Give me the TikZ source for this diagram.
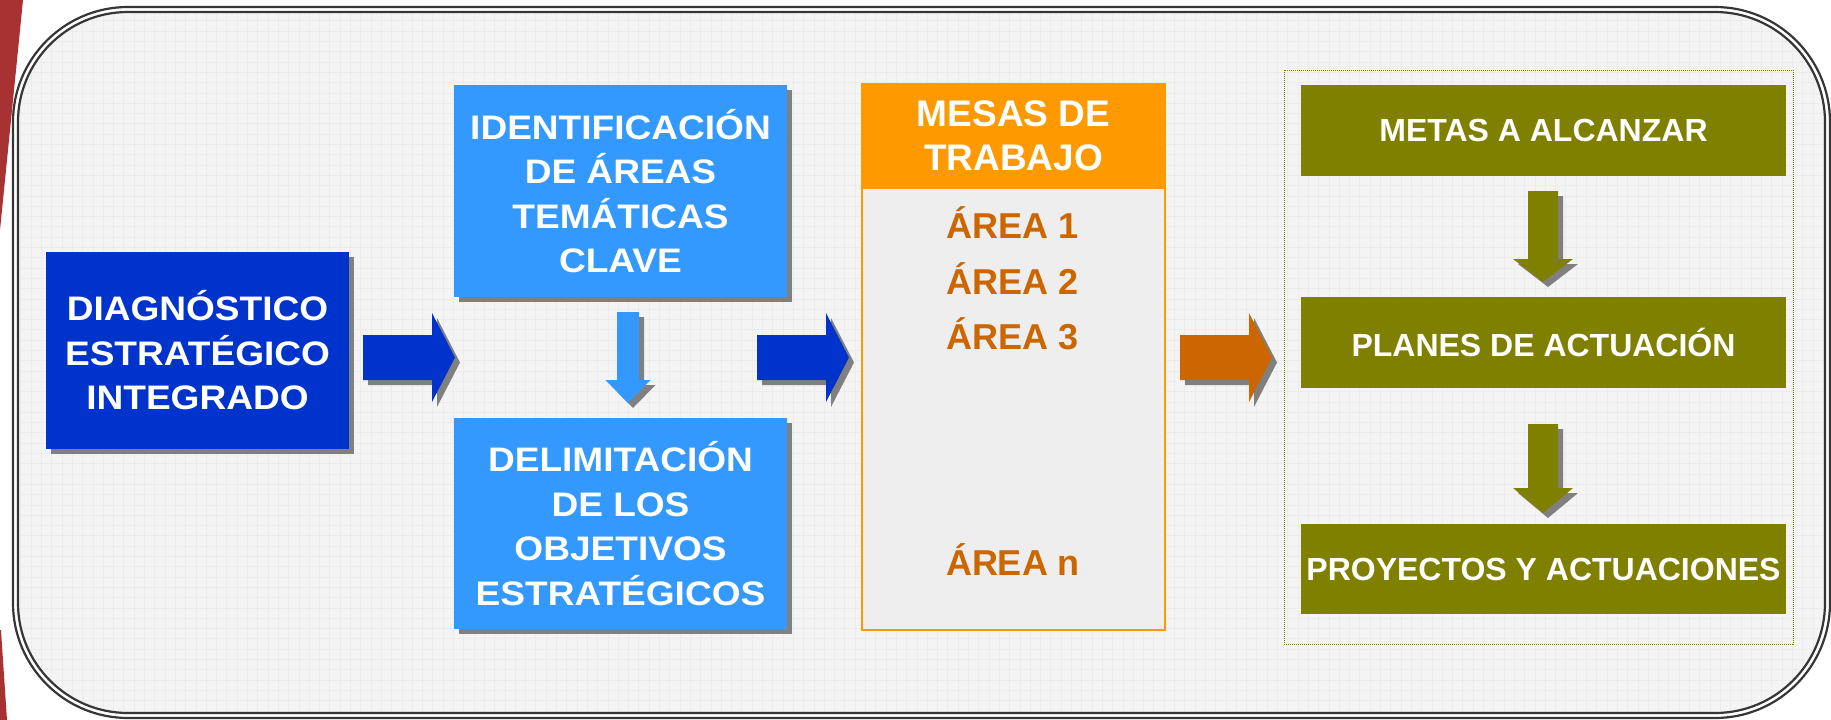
\documentclass[tikz,border=0pt]{standalone}
\usepackage{fontspec}
\setmainfont{Liberation Sans}
\newfontfamily\wideb{Liberation Sans}[FakeStretch=1.09]
\usetikzlibrary{shadows}
\definecolor{dblue}{HTML}{0033CC}
\definecolor{lblue}{HTML}{3399FF}
\definecolor{orng}{HTML}{FF9900}
\definecolor{brorange}{HTML}{CC6600}
\definecolor{oliv}{HTML}{808000}
\definecolor{shad}{HTML}{808080}
\definecolor{bgc}{HTML}{F4F4F4}
\definecolor{gridc}{HTML}{ECECEC}
\definecolor{framec}{HTML}{363636}
\definecolor{redc}{HTML}{A83232}
\definecolor{mesabg}{HTML}{EEEEEE}
% right-pointing block arrow: #1 = left x, #2 = centre y, #3 = colour
\newcommand\RArr[3]{%
  \fill[shad,shift={(#1+5,#2+5)}] (0,-22.5) -- (69,-22.5) -- (69,-44.5) -- (92,0) -- (69,44.5) -- (69,22.5) -- (0,22.5) -- cycle;
  \fill[#3,shift={(#1,#2)}] (0,-22.5) -- (69,-22.5) -- (69,-44.5) -- (92,0) -- (69,44.5) -- (69,22.5) -- (0,22.5) -- cycle;}
% down-pointing block arrow: #1 = centre x, #2 = top y, #3 = shaft half width,
% #4 = head half width, #5 = shaft length, #6 = head length, #7 = colour
\newcommand\DArr[7]{%
  \fill[shad,shift={(#1+5,#2+5)}] (-#3,0) -- (#3,0) -- (#3,#5) -- (#4,#5) -- (0,#5+#6) -- (-#4,#5) -- (-#3,#5) -- cycle;
  \fill[#7,shift={(#1,#2)}] (-#3,0) -- (#3,0) -- (#3,#5) -- (#4,#5) -- (0,#5+#6) -- (-#4,#5) -- (-#3,#5) -- cycle;}
\begin{document}
\begin{tikzpicture}[x=1pt,y=-1pt,
  bluebox/.style={rectangle, inner sep=0pt, text=white, align=center,
    font=\wideb\bfseries\fontsize{34}{44.5}\selectfont,
    drop shadow={shadow xshift=5pt, shadow yshift=-5pt, fill=shad, opacity=1}},
  olivebox/.style={rectangle, fill=oliv, inner sep=0pt, minimum width=485pt,
    minimum height=91pt, text=white, font=\bfseries\fontsize{32}{38}\selectfont},
  arealabel/.style={text=brorange, font=\bfseries\fontsize{36}{40}\selectfont, anchor=base},
]
\useasboundingbox (0,0) rectangle (1831,720);
\fill[white] (0,0) rectangle (1831,720);
\fill[redc] (0,0) -- (23,0) -- (0,230) -- cycle;
\fill[redc] (0,630) -- (1,630) -- (7,720) -- (0,720) -- cycle;
\draw[framec, line width=2.2pt, rounded corners=115pt] (13,7) rectangle (1830,718);
\begin{scope}
  \path[clip, rounded corners=110pt] (18,12) rectangle (1825,713);
  \fill[bgc] (18,12) rectangle (1825,713);
  \draw[gridc, line width=0.4pt, step=10.3pt] (18,12) grid (1825,713);
\end{scope}
\draw[framec, line width=2.2pt, rounded corners=110pt] (18,12) rectangle (1825,713);

% blue boxes
\node[bluebox, fill=dblue, minimum width=303pt, minimum height=197pt] (diag) at (197.5,350.5)
  {DIAGNÓSTICO\\ESTRATÉGICO\\INTEGRADO};
\node[bluebox, fill=lblue, minimum width=333pt, minimum height=212pt] (ident) at (620.5,191)
  {IDENTIFICACIÓN\\DE ÁREAS\\TEMÁTICAS\\CLAVE};
\node[bluebox, fill=lblue, minimum width=333pt, minimum height=211pt] (delim) at (620.5,523.5)
  {DELIMITACIÓN\\DE LOS\\OBJETIVOS\\ESTRATÉGICOS};

% mesas de trabajo
\node[draw=orng, line width=2pt, fill=mesabg, minimum width=303pt, minimum height=545pt, inner sep=0pt]
  (mesas) at (1013.5,357.5) {};
\node[fill=orng, minimum width=305pt, minimum height=106pt, inner sep=0pt, anchor=north,
  text=white, align=center, font=\bfseries\fontsize{37}{44}\selectfont]
  (mesashead) at ([yshift=1pt]mesas.north) {MESAS DE\\TRABAJO};
\node[arealabel] (a1) at (1013,238) {ÁREA 1};
\node[arealabel] (a2) at (1013,294) {ÁREA 2};
\node[arealabel] (a3) at (1013,349) {ÁREA 3};
\node[arealabel] (an) at (1013,575) {ÁREA n};

% olive column
\node[draw=oliv, line width=1pt, dash pattern=on 1pt off 1pt, minimum width=509pt,
  minimum height=574pt, inner sep=0pt] (cont) at (1538.5,357) {};
\node[olivebox] (metas) at (1543.5,130.5) {METAS A ALCANZAR};
\node[olivebox] (planes) at (1543.5,342.5) {PLANES DE ACTUACIÓN};
\node[olivebox, minimum height=90pt] (proy) at (1543.5,569) {PROYECTOS Y ACTUACIONES};

% block arrows
\RArr{363}{357.5}{dblue}
\RArr{757}{357.5}{dblue}
\RArr{1180}{357.5}{brorange}
\DArr{628}{312}{11}{22.5}{68}{23}{lblue}
\DArr{1543}{191}{15}{30}{68}{23}{oliv}
\DArr{1543}{424}{15}{30}{64}{25}{oliv}
\end{tikzpicture}
\end{document}
